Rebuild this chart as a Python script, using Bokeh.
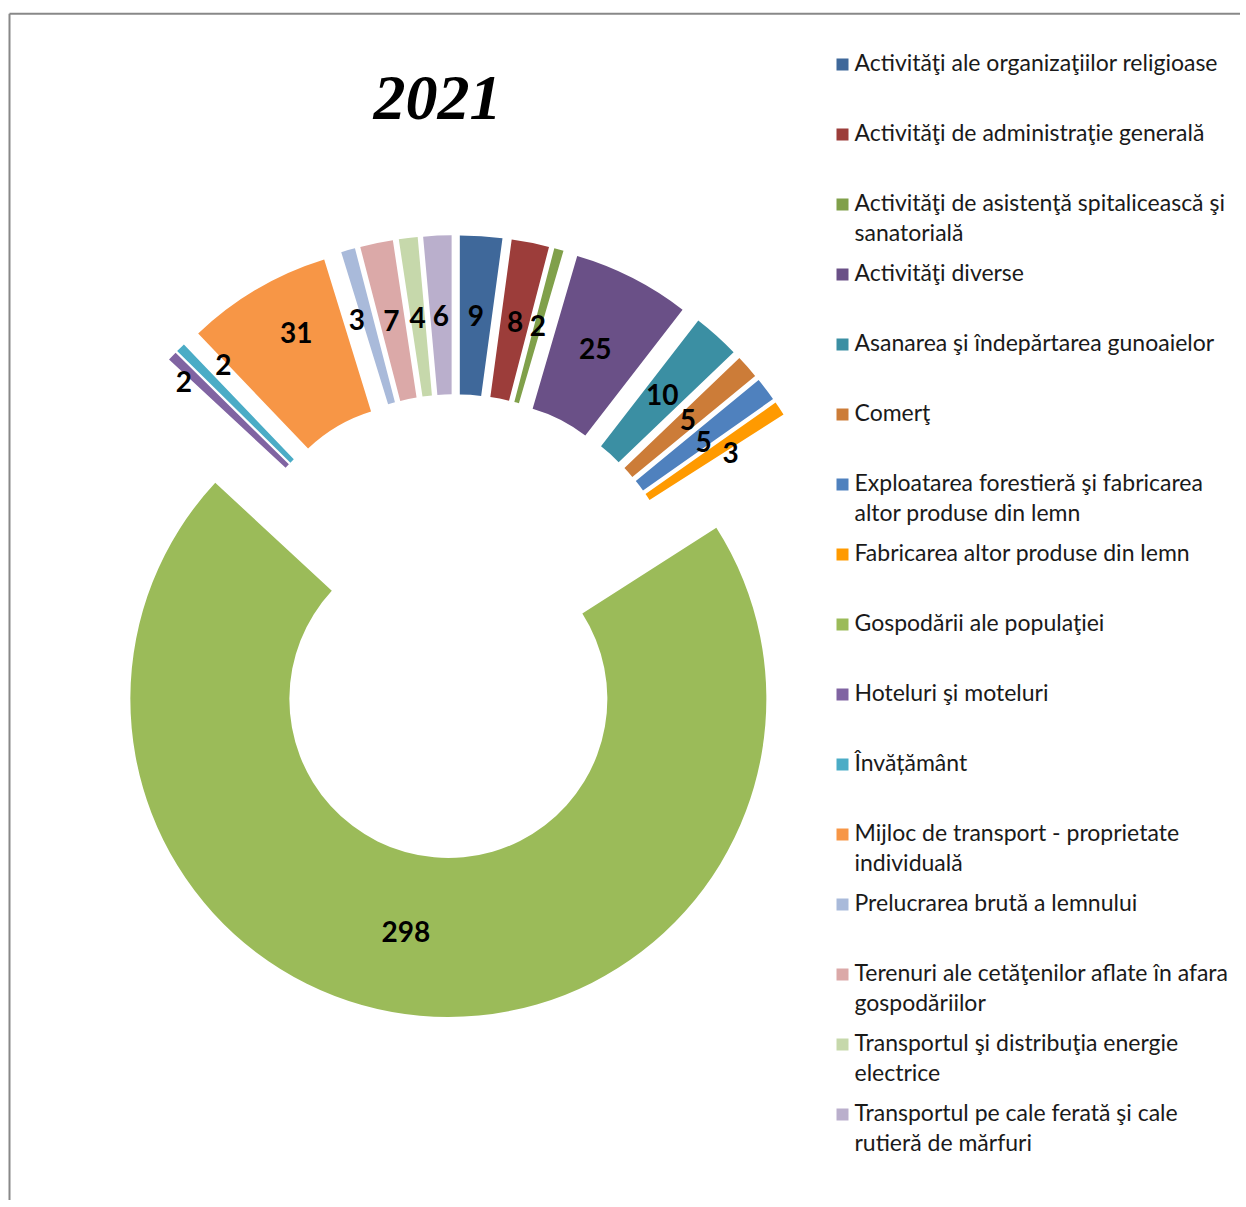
import math
from bokeh.plotting import figure
from bokeh.models import Range1d, ColumnDataSource
from bokeh.core.properties import value
from bokeh.embed import file_html
from bokeh.resources import INLINE

# ---------------- data ----------------
title_text = "2021"
categories = [
    "Activităţi ale organizaţiilor religioase",
    "Activităţi de administraţie generală",
    "Activităţi de asistenţă spitalicească şi\nsanatorială",
    "Activităţi diverse",
    "Asanarea şi îndepărtarea gunoaielor",
    "Comerţ",
    "Exploatarea forestieră şi fabricarea\naltor produse din lemn",
    "Fabricarea altor produse din lemn",
    "Gospodării ale populaţiei",
    "Hoteluri şi moteluri",
    "Învățământ",
    "Mijloc de transport - proprietate\nindividuală",
    "Prelucrarea brută a lemnului",
    "Terenuri ale cetăţenilor aflate în afara\ngospodăriilor",
    "Transportul şi distribuţia energie\nelectrice",
    "Transportul pe cale ferată şi cale\nrutieră de mărfuri",
]
values = [9, 8, 2, 25, 10, 5, 5, 3, 298, 2, 2, 31, 3, 7, 4, 6]
colors = [
    "#3F689A", "#9C3D3A", "#80A04A", "#6A5087", "#3B8FA3", "#CC7C38",
    "#4F81BE", "#FF9A00", "#9BBB59", "#8064A2", "#4BACC6", "#F79646",
    "#A9BADA", "#DBA9A8", "#C6D8AB", "#BAAFCC",
]

# ---------------- layout (pixels) ----------------
W, H = 1240, 1200
OX, OY = 0, 0


def dx(sx):
    return sx - OX


def dy(sy):
    return H - (sy - OY)


CX, CY = dx(454.4), dy(625.8)   # donut centre
R_IN, R_OUT = 159.0, 318.0
EXPLODE = 73.0
R_LABEL = (R_IN + R_OUT) / 2
# manual label nudges in screen pixels (dx right, dy down)
label_nudge = [(0, 1), (0, 2), (0, 1), (-1, 1), (-1, 1), (0, 1), (1, 5), (17, 1),
               (-21, -4), (-46, -28), (-13, -38), (-1, -24), (-13, -6), (-1, 1), (0, 2), (0, 2)]
LABEL_DY = -1.5

total = float(sum(values))
cum = 0.0
xs, ys, starts, ends, lx, ly, ltxt = [], [], [], [], [], [], []
for i, v in enumerate(values):
    a0 = cum / total * 360.0
    a1 = (cum + v) / total * 360.0
    cum += v
    b = math.radians((a0 + a1) / 2)
    cx = CX + EXPLODE * math.sin(b)
    cy = CY + EXPLODE * math.cos(b)
    xs.append(cx)
    ys.append(cy)
    starts.append(90.0 - a1)
    ends.append(90.0 - a0)
    nx, ny = label_nudge[i]
    lx.append(cx + R_LABEL * math.sin(b) + nx)
    ly.append(cy + R_LABEL * math.cos(b) - ny - LABEL_DY)
    ltxt.append(str(v))

wedges = ColumnDataSource(dict(x=xs, y=ys, start=starts, end=ends, color=colors,
                               cat=[c.replace("\n", " ") for c in categories], val=values))
labels = ColumnDataSource(dict(x=lx, y=ly, text=ltxt))

p = figure(width=W, height=H, x_range=Range1d(0, W), y_range=Range1d(0, H),
           output_backend="svg", toolbar_location=None, min_border=0,
           x_axis_type=None, y_axis_type=None)
p.grid.visible = False
p.outline_line_color = None
p.background_fill_color = "white"

# frame border (left and top visible)
p.multi_line(xs=[[dx(9), dx(9)], [dx(9), W + 5]],
             ys=[[-5, dy(13.3)], [dy(13.3), dy(13.3)]],
             line_color="#888888", line_width=2)

p.annular_wedge(x="x", y="y", inner_radius=R_IN, outer_radius=R_OUT,
                start_angle="start", end_angle="end", start_angle_units="deg",
                end_angle_units="deg", fill_color="color", line_color=None,
                source=wedges)

p.text(x="x", y="y", text="text", source=labels, text_font=value("Lato"),
       text_font_style="bold", text_font_size="28px", text_color="black",
       text_align="center", text_baseline="middle")

# title
p.text(x=[dx(437)], y=[dy(97)], text=[title_text], text_font=value("Liberation Serif"),
       text_font_style="bold italic", text_font_size="64px", text_color="black",
       text_align="center", text_baseline="middle")

# legend
LEG_X, LEG_Y0, LEG_STEP, LINE_STEP = 842, 64, 70, 29.5
sw_x, sw_y, tx, ty, tt = [], [], [], [], []
for i, c in enumerate(categories):
    yc = LEG_Y0 + LEG_STEP * i
    sw_x.append(dx(LEG_X))
    sw_y.append(dy(yc))
    for j, line in enumerate(c.split("\n")):
        tx.append(dx(854))
        ty.append(dy(yc - 2.5 + LINE_STEP * j))
        tt.append(line)
p.scatter(x=sw_x, y=sw_y, marker="square", size=12, fill_color=colors, line_color=None)
p.text(x=tx, y=ty, text=tt, text_font=value("Lato"), text_font_size="23px",
       text_color="#1a1a1a", text_align="left", text_baseline="middle")

open("out.html", "w").write(file_html(p, INLINE))
